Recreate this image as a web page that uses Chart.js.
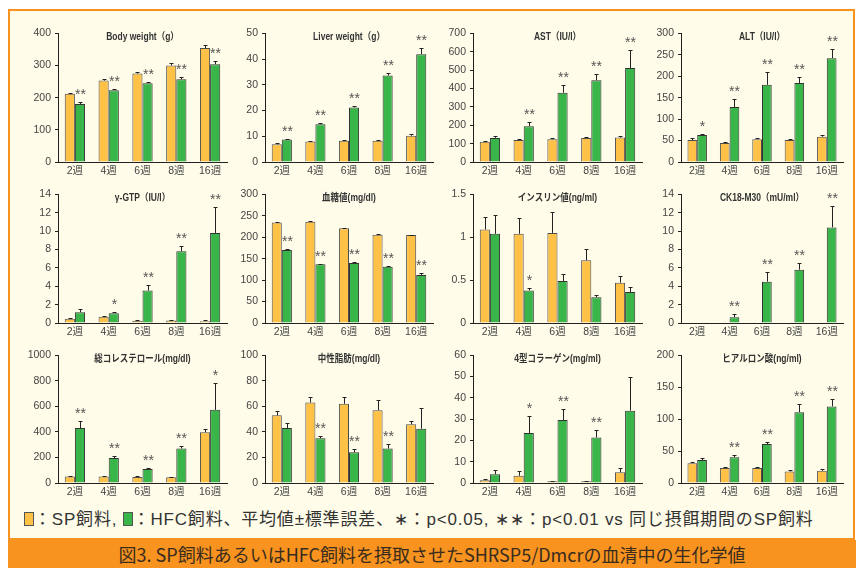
<!DOCTYPE html>
<html>
<head>
<meta charset="utf-8">
<script src="https://cdn.jsdelivr.net/npm/chart.js@4"></script>
<style>
  html, body { margin: 0; padding: 0; background: #fff; }
  body { width: 856px; height: 568px; position: relative; overflow: hidden; }
  #panel {
    position: absolute; left: 8px; top: 9px; width: 843px; height: 527px;
    background: #fffce9; border: 2px solid #f7931e;
  }
  #caption {
    position: absolute; left: 8px; top: 540px; width: 848px; height: 28px;
    background: #f7931e; color: #3a2c1e; text-align: center;
    font: 18px "Noto Sans CJK JP", sans-serif; line-height: 28px; white-space: nowrap;
  }
  #legend {
    position: absolute; left: 24px; top: 509px; color: #333; white-space: nowrap;
    font: 17px "Liberation Sans", "Noto Sans CJK JP", sans-serif; line-height: 22px;
    letter-spacing: 0.8px;
  }
  .sq { display: inline-block; width: 8px; height: 12px; border: 1px solid #555; vertical-align: -1px; }
  canvas { position: absolute; }
</style>
</head>
<body>
<div id="panel"></div>
<div id="legend"><span class="sq" style="background:#ffc247"></span>：SP飼料, <span class="sq" style="background:#39b54a"></span>：HFC飼料、平均値±標準誤差、∗：p&lt;0.05, ∗∗：p&lt;0.01 vs 同じ摂餌期間のSP飼料</div>
<div id="caption">図3. SP飼料あるいはHFC飼料を摂取させたSHRSP5/Dmcrの血清中の生化学値</div>
<script>
const weeks = ['2週', '4週', '6週', '8週', '16週'];

// Body weight (g)
const bodySP     = [212, 253, 275, 300, 354];
const bodySPErr  = [4, 4, 4, 7, 9];
const bodyHFC    = [180, 223, 245, 257, 304];
const bodyHFCErr = [6, 3, 5, 6, 9];
const bodyStars  = ['**', '**', '**', '**', '**'];

// Liver weight (g)
const liverSP     = [6.9, 8.0, 8.3, 8.3, 10.2];
const liverSPErr  = [0.3, 0.3, 0.4, 0.4, 0.5];
const liverHFC    = [8.7, 14.7, 21.2, 33.6, 41.9];
const liverHFCErr = [0.3, 0.4, 0.6, 0.8, 2.2];
const liverStars  = ['**', '**', '**', '**', '**'];

// AST (IU/l)
const astSP     = [110, 119, 124, 131, 133];
const astSPErr  = [5, 7, 8, 5, 8];
const astHFC    = [131, 195, 377, 445, 511];
const astHFCErr = [10, 22, 42, 31, 98];
const astStars  = ['', '**', '**', '**', '**'];

// ALT (IU/l)
const altSP     = [51, 44, 53, 51, 59];
const altSPErr  = [4, 2, 2, 2, 4];
const altHFC    = [63, 128, 180, 184, 242];
const altHFCErr = [3, 19, 30, 15, 22];
const altStars  = ['*', '**', '**', '**', '**'];

// γ-GTP (IU/l)
const gtpSP     = [0.45, 0.68, 0.24, 0.28, 0.2];
const gtpSPErr  = [0.1, 0.1, 0.1, 0.08, 0.08];
const gtpHFC    = [1.18, 1.07, 3.53, 7.8, 9.8];
const gtpHFCErr = [0.35, 0.12, 0.55, 0.55, 2.8];
const gtpStars  = ['', '*', '**', '**', '**'];

// 血糖値 (mg/dl)
const gluSP     = [234, 236, 221, 206, 205];
const gluSPErr  = [1, 1, 0.5, 0.5, 0.5];
const gluHFC    = [170, 137, 140, 131, 112];
const gluHFCErr = [1.5, 1.5, 2, 1.5, 3.5];
const gluStars  = ['**', '**', '**', '**', '**'];

// インスリン値 (ng/ml)
const insSP     = [1.09, 1.04, 1.05, 0.73, 0.47];
const insSPErr  = [0.14, 0.18, 0.24, 0.13, 0.08];
const insHFC    = [1.04, 0.38, 0.49, 0.30, 0.36];
const insHFCErr = [0.22, 0.03, 0.08, 0.03, 0.06];
const insStars  = ['', '*', '', '', ''];

// CK18-M30 (mU/ml) - SP group not measured
const ckSP     = [null, null, null, null, null];
const ckSPErr  = [null, null, null, null, null];
const ckHFC    = [null, 0.63, 4.5, 5.8, 10.4];
const ckHFCErr = [null, 0.4, 1.1, 0.7, 2.3];
const ckStars  = ['', '**', '**', '**', '**'];

// 総コレステロール (mg/dl)
const cholSP     = [50, 50, 47, 45, 398];
const cholSPErr  = [7, 5, 5, 5, 27];
const cholHFC    = [430, 196, 110, 270, 573];
const cholHFCErr = [55, 18, 5, 20, 212];
const cholStars  = ['**', '**', '**', '**', '*'];

// 中性脂肪 (mg/dl)
const tgSP     = [53, 63, 62, 57, 46];
const tgSPErr  = [3.5, 4.5, 5.5, 8, 2.3];
const tgHFC    = [43, 35, 24, 27, 42.5];
const tgHFCErr = [4.3, 2, 2.8, 3.6, 16.5];
const tgStars  = ['', '**', '**', '**', ''];

// 4型コラーゲン (mg/ml)
const colSP     = [1.3, 3.4, 0.8, 0.8, 5];
const colSPErr  = [0.4, 2.4, 0.3, 0.3, 2];
const colHFC    = [4.1, 23.5, 29.6, 21.4, 34];
const colHFCErr = [2, 7.8, 5.4, 3.5, 15.6];
const colStars  = ['', '*', '**', '**', ''];

// ヒアルロン酸 (ng/ml)
const haSP     = [31, 23.5, 23.5, 18, 19];
const haSPErr  = [1.5, 1.5, 2, 2, 3];
const haHFC    = [36, 40.5, 61, 111, 120];
const haHFCErr = [3, 3, 3, 13.5, 12];
const haStars  = ['', '**', '**', '**', '**'];

const panelTitles = [
    'Body weight（g）', 'Liver weight（g）', 'AST（IU/l）', 'ALT（IU/l）',
    'γ-GTP（IU/l）', '血糖値(mg/dl)', 'インスリン値(ng/ml)', 'CK18-M30（mU/ml）',
    '総コレステロール(mg/dl)', '中性脂肪(mg/dl)', '4型コラーゲン(mg/ml)', 'ヒアルロン酸(ng/ml)',
];
const axisMax  = [400, 50, 700, 300, 14, 300, 1.5, 14, 1000, 100, 60, 200];
const axisStep = [100, 10, 100, 50, 2, 50, 0.5, 2, 200, 20, 10, 50];

const panels = [
    [bodySP, bodySPErr, bodyHFC, bodyHFCErr, bodyStars],
    [liverSP, liverSPErr, liverHFC, liverHFCErr, liverStars],
    [astSP, astSPErr, astHFC, astHFCErr, astStars],
    [altSP, altSPErr, altHFC, altHFCErr, altStars],
    [gtpSP, gtpSPErr, gtpHFC, gtpHFCErr, gtpStars],
    [gluSP, gluSPErr, gluHFC, gluHFCErr, gluStars],
    [insSP, insSPErr, insHFC, insHFCErr, insStars],
    [ckSP, ckSPErr, ckHFC, ckHFCErr, ckStars],
    [cholSP, cholSPErr, cholHFC, cholHFCErr, cholStars],
    [tgSP, tgSPErr, tgHFC, tgHFCErr, tgStars],
    [colSP, colSPErr, colHFC, colHFCErr, colStars],
    [haSP, haSPErr, haHFC, haHFCErr, haStars],
];

// page layout of the 4x3 grid (plot area edges in px)
const COL_LEFT   = [58, 265, 473, 681];
const COL_RIGHT  = [227, 433, 642, 843];
const ROW_TOP    = [31, 192, 353];
const ROW_BOTTOM = [162, 323, 483];
const Y_W = 44, X_H = 22, PAD_T = 8, PAD_R = 4;

const SP_COLOR  = '#ffc247';
const HFC_COLOR = '#39b54a';
const FONT = '"Liberation Sans", "Noto Sans CJK JP", sans-serif';

// error bars (upper only), significance marks and the in-plot title
const panelDecor = {
    id: 'panelDecor',
    afterDatasetsDraw(chart) {
        const ctx = chart.ctx;
        const yScale = chart.scales.y;
        ctx.save();
        chart.data.datasets.forEach((ds, di) => {
            chart.getDatasetMeta(di).data.forEach((bar, k) => {
                const v = ds.data[k];
                if (v == null) return;
                const top = Math.round(yScale.getPixelForValue(v + ds.errors[k])) + 0.5;
                const x = Math.round(bar.x) + 0.5;
                ctx.strokeStyle = '#222';
                ctx.lineWidth = 1;
                ctx.beginPath();
                ctx.moveTo(x, bar.y);
                ctx.lineTo(x, top);
                ctx.moveTo(x - 2, top);
                ctx.lineTo(x + 2, top);
                ctx.stroke();
                if (ds.stars && ds.stars[k]) {
                    ctx.fillStyle = '#555';
                    ctx.font = '14px ' + FONT;
                    ctx.textAlign = 'center';
                    ctx.textBaseline = 'alphabetic';
                    ctx.fillText(ds.stars[k], x, top - 4);
                }
            });
        });
        const area = chart.chartArea;
        ctx.translate((area.left + area.right) / 2, area.top + 4);
        ctx.scale(0.85, 1);
        ctx.fillStyle = '#333';
        ctx.font = 'bold 10px ' + FONT;
        ctx.textAlign = 'center';
        ctx.textBaseline = 'middle';
        ctx.fillText(chart.options.plugins.panelDecor.title, 0, 0);
        ctx.restore();
    }
};

panels.forEach(([sp, spErr, hfc, hfcErr, stars], i) => {
    const col = i % 4, row = Math.floor(i / 4);
    const w = COL_RIGHT[col] - COL_LEFT[col] + Y_W + PAD_R;
    const h = ROW_BOTTOM[row] - ROW_TOP[row] + PAD_T + X_H;
    const canvas = document.createElement('canvas');
    canvas.width = w; canvas.height = h;
    canvas.style.width = w + 'px'; canvas.style.height = h + 'px';
    canvas.style.left = (COL_LEFT[col] - Y_W) + 'px';
    canvas.style.top = (ROW_TOP[row] - PAD_T) + 'px';
    document.body.appendChild(canvas);

    new Chart(canvas, {
        type: 'bar',
        data: {
            labels: weeks,
            datasets: [
                { data: sp, errors: spErr, backgroundColor: SP_COLOR, borderColor: '#4d4d4d', borderWidth: 1 },
                { data: hfc, errors: hfcErr, stars: stars, backgroundColor: HFC_COLOR, borderColor: '#333', borderWidth: 1 },
            ],
        },
        options: {
            responsive: false,
            animation: false,
            devicePixelRatio: 1,
            layout: { padding: { top: PAD_T, right: PAD_R, left: 0, bottom: 0 } },
            datasets: { bar: { categoryPercentage: 0.6, barPercentage: 1.0 } },
            plugins: {
                legend: { display: false },
                tooltip: { enabled: false },
                panelDecor: { title: panelTitles[i] },
            },
            scales: {
                x: {
                    afterFit: s => { s.height = X_H; },
                    grid: { display: false, drawTicks: false },
                    border: { display: true, color: '#222', width: 1 },
                    ticks: { color: '#444', font: { size: 10.5, family: FONT }, padding: 3, maxRotation: 0 },
                },
                y: {
                    min: 0, max: axisMax[i],
                    afterFit: s => { s.width = Y_W; },
                    grid: { drawOnChartArea: false, drawTicks: true, tickLength: 3, color: '#222' },
                    border: { display: true, color: '#222', width: 1 },
                    ticks: {
                        stepSize: axisStep[i], color: '#444', padding: 4,
                        font: { size: 10.5, family: FONT },
                        callback: v => String(+v.toFixed(2)),
                    },
                },
            },
        },
        plugins: [panelDecor],
    });
});
</script>
</body>
</html>
